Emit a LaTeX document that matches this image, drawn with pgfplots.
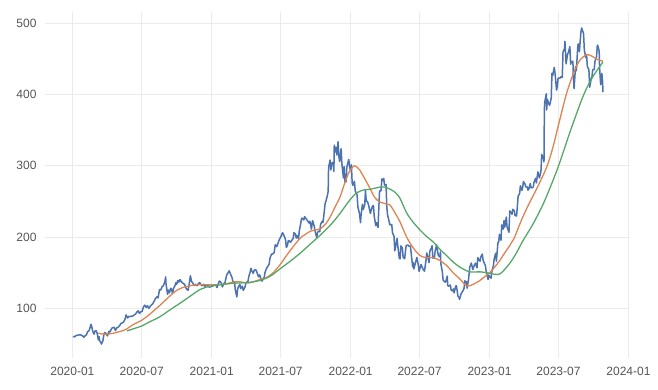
\documentclass[border=0pt]{standalone}
\usepackage{pgfplots}
\pgfplotsset{compat=1.18}
\usepackage{pgfplotstable}
\usepackage{fontspec}
\setmainfont{Liberation Sans}
\definecolor{cblue}{HTML}{4C72B0}
\definecolor{corange}{HTML}{DD8452}
\definecolor{cgreen}{HTML}{55A868}
\definecolor{cgrid}{HTML}{EBEBEB}
\definecolor{ctext}{HTML}{555555}

% day = days since 2020-01-01
\pgfplotstableread{
day price
1 60.0
6 59.8
9 61.5
14 61.8
17 62.5
22 62.4
27 61.0
30 59.1
34 61.5
37 62.6
40 67.1
43 68.0
45 70.2
49 77.4
51 73.5
54 66.5
57 63.5
59 67.5
62 68.5
65 65.0
68 55.5
70 60.1
72 53.5
75 52.1
76 49.5
78 51.5
80 54.0
83 63.6
85 65.7
89 64.2
92 61.0
96 67.5
99 66.7
103 71.5
106 72.7
110 73.0
113 68.6
117 72.5
120 73.1
124 75.4
127 78.2
131 79.4
134 80.1
138 84.1
141 90.5
145 86.2
148 88.4
152 88.0
155 88.9
159 89.0
162 90.3
166 91.8
169 94.2
173 96.3
176 92.5
180 95.0
183 95.3
187 102.0
190 104.2
194 101.0
197 103.5
201 99.7
204 102.4
208 104.8
211 106.1
215 110.0
218 113.3
222 115.9
225 114.5
229 126.3
232 125.5
236 130.5
239 131.5
243 137.2
245 143.9
246 134.0
250 119.5
252 125.4
255 121.4
258 127.8
260 127.5
263 120.6
266 128.0
269 131.1
272 135.8
274 133.5
277 139.0
280 136.7
283 140.2
286 137.0
289 135.7
292 134.5
295 133.0
298 128.8
301 126.0
304 125.3
307 134.5
310 145.5
313 137.5
316 135.5
320 132.0
324 133.5
327 131.5
331 134.4
334 136.0
338 133.0
341 131.5
345 133.6
348 130.5
352 132.5
356 131.7
360 129.5
365 130.5
369 131.1
373 133.0
377 132.0
380 129.0
385 137.0
387 138.0
391 135.5
394 129.9
398 134.5
401 136.0
405 146.0
408 149.0
412 152.5
415 148.3
419 143.5
422 137.2
426 136.0
428 125.6
432 115.8
434 126.5
436 129.8
440 133.5
442 127.4
446 130.8
449 125.0
454 130.5
456 136.0
461 137.3
464 145.5
467 150.6
469 156.0
471 152.8
475 149.0
478 153.5
482 154.0
485 150.1
489 144.0
492 146.6
496 140.0
498 138.0
502 141.5
504 143.5
506 150.0
510 155.8
512 157.5
517 162.0
519 169.9
523 176.0
526 176.0
530 178.0
533 189.0
537 186.5
540 191.0
544 197.0
547 199.5
552 206.0
554 204.0
558 199.5
560 196.0
562 185.5
565 187.8
567 194.5
569 195.0
573 192.5
576 195.0
580 198.0
582 206.0
586 204.0
588 198.5
590 202.0
594 197.5
596 208.0
600 219.5
602 226.0
604 226.4
608 223.9
610 228.5
615 225.0
618 222.5
622 219.5
624 222.0
628 211.0
631 223.0
635 216.0
638 207.2
642 199.0
644 206.0
646 208.0
650 207.5
652 217.5
656 222.0
658 220.0
660 227.3
664 247.2
666 250.0
670 258.5
672 264.0
673 297.5
677 308.0
679 294.0
681 303.0
685 305.0
687 292.0
688 329.0
691 319.5
693 326.0
695 315.0
698 333.8
700 314.0
702 306.0
706 324.0
708 303.0
712 283.0
714 299.0
716 277.0
719 277.5
721 298.0
726 309.0
728 300.0
730 294.1
733 301.2
735 276.0
737 272.5
741 278.0
743 265.0
748 259.0
750 242.0
754 233.7
757 220.0
758 228.4
762 246.0
764 238.5
768 245.0
770 265.0
772 250.0
775 250.0
778 245.0
783 233.0
785 237.5
789 243.9
791 244.0
793 229.0
797 216.0
799 220.0
803 213.3
805 240.0
807 264.5
811 265.0
813 281.5
817 279.0
818 282.2
820 272.9
824 273.6
826 242.0
828 231.2
832 222.0
834 217.0
839 217.5
841 206.0
845 201.0
847 180.6
849 185.5
853 198.0
855 187.1
859 169.5
861 169.4
863 187.5
867 184.5
869 171.2
873 169.5
875 179.8
877 188.1
882 188.6
884 187.2
888 187.3
890 178.0
894 158.0
896 163.7
897 155.0
902 165.0
905 171.3
909 160.0
911 151.6
916 161.4
918 158.7
922 154.0
925 152.0
929 167.0
931 177.5
933 173.2
937 164.0
939 180.0
943 184.4
945 187.6
947 170.3
951 170.3
953 180.0
957 188.9
958 186.0
961 174.6
965 172.0
967 179.0
968 162.6
972 150.8
974 139.4
979 136.5
981 137.3
985 145.0
986 131.5
989 131.0
993 132.6
995 125.6
999 124.1
1001 127.1
1003 121.4
1007 131.0
1009 131.5
1013 116.7
1016 115.0
1017 112.3
1021 119.7
1023 121.9
1027 125.2
1029 128.0
1031 138.3
1035 137.0
1037 128.1
1041 141.6
1044 157.6
1048 163.3
1050 159.1
1052 154.1
1056 160.4
1059 163.2
1063 156.8
1065 171.0
1069 167.0
1071 166.0
1073 172.0
1077 176.0
1079 167.5
1083 162.0
1085 160.0
1087 152.1
1092 140.4
1094 146.1
1098 143.2
1100 142.1
1101 148.6
1104 156.3
1106 159.1
1108 168.9
1112 177.0
1114 166.0
1118 192.0
1120 193.2
1122 203.7
1126 195.4
1128 217.0
1132 211.0
1134 223.0
1136 213.9
1140 228.0
1142 213.9
1147 206.6
1149 236.6
1153 234.0
1155 231.9
1157 238.8
1161 237.0
1163 230.0
1167 229.6
1169 242.3
1171 257.2
1175 261.0
1177 271.9
1181 265.3
1183 269.8
1185 277.8
1189 274.5
1191 270.4
1195 270.2
1197 265.6
1199 267.3
1203 275.0
1205 269.0
1209 269.4
1211 270.5
1213 277.5
1217 282.5
1219 276.0
1223 291.5
1225 287.0
1227 283.0
1231 292.0
1233 316.0
1237 311.0
1239 305.4
1240 379.8
1241 389.5
1245 401.1
1246 378.3
1248 393.3
1252 386.5
1254 385.1
1258 394.8
1260 429.9
1262 426.9
1266 438.1
1268 430.3
1272 406.3
1274 411.2
1276 423.0
1281 423.0
1283 425.0
1287 424.0
1289 459.8
1293 464.6
1294 474.9
1296 455.2
1297 443.1
1301 456.8
1303 459.0
1307 467.3
1309 442.7
1311 446.8
1315 446.6
1316 425.5
1318 408.5
1322 439.4
1324 433.4
1328 469.7
1330 471.2
1332 460.2
1336 487.8
1338 493.6
1343 485.5
1345 462.4
1349 451.8
1351 454.9
1353 439.0
1357 435.2
1359 410.2
1363 422.2
1365 424.7
1367 435.0
1371 435.2
1373 446.9
1377 452.7
1379 468.1
1380 469.5
1384 460.9
1385 439.4
1387 421.0
1388 413.9
1391 429.8
1393 417.8
1394 403.3
}\pricetable

\pgfplotstableread{
day ma
68 65
80 63.5
100 64
120 66.5
140 70
160 77
182 83
200 90
213 96
230 104
244 111
260 119
274 125
290 129
305 131
320 132.5
335 133
350 133
366 133
380 133
397 133.5
410 135
425 137
440 137
456 135.5
470 136
486 139
497 141
510 143
516 145
530 151
547 162
560 172
578 185
598 198
610 203
625 208
640 210
650 211
665 218
677 228
690 242
703 256
715 275
725 289
733 296
740 300
748 298
755 294
770 280
782 268
795 255
808 249
820 247
834 245
843 238
860 222
878 200
895 185
913 174
930 171
948 171
965 167
983 160
1000 150
1018 141
1030 134
1040 131
1055 134
1071 139
1085 145
1097 150
1110 158
1123 167
1135 177
1149 188
1162 200
1180 224
1200 247
1220 268
1246 298
1262 325
1276 355
1298 401
1318 432
1333 448
1351 456
1365 454
1380 449
1394 447
}\maA

\pgfplotstableread{
day ma
143 68
160 71
182 75
200 80
230 88
260 99
283 107
310 117
335 126
362 131
390 133
423 135
460 136
493 139
520 145
545 155
570 165
598 177
625 190
650 202
680 218
703 233
729 252
747 262
765 266
782 267
808 270
821 270
835 267
847 263
860 255
878 234
895 221
913 210
930 201
948 193
965 183
983 174
1000 165
1020 157
1044 151
1071 151
1097 149
1110 147.5
1123 148
1135 154
1149 163
1165 176
1184 195
1210 218
1240 250
1276 298
1309 350
1342 398
1365 423
1394 446
}\maB

\begin{document}
\begin{tikzpicture}
\path[use as bounding box] (0,0) rectangle (658pt,390pt);
\begin{axis}[
  at={(45pt,32pt)}, anchor=south west,
  scale only axis, width=585pt, height=346pt,
  xmin=-72, xmax=1465, ymin=30, ymax=516,
  xtick={0,182,366,547,731,912,1096,1277,1461},
  xticklabels={2020-01,2020-07,2021-01,2021-07,2022-01,2022-07,2023-01,2023-07,2024-01},
  ytick={100,200,300,400,500},
  grid=major,
  major grid style={cgrid, line width=0.6pt},
  axis line style={draw=none},
  tick style={draw=none},
  /pgf/number format/assume math mode=true,
  tick label style={font=\fontsize{12}{14}\selectfont, text=ctext},
  yticklabel style={xshift=-5pt},
  xticklabel style={yshift=-6pt},
  clip=false,
]
\addplot[cblue, line width=1.5pt, line join=round] table[x=day, y=price] {\pricetable};
\addplot[corange, line width=1.3pt, line join=round, smooth] table[x=day, y=ma] {\maA};
\addplot[cgreen, line width=1.3pt, line join=round, smooth] table[x=day, y=ma] {\maB};
\end{axis}
\end{tikzpicture}
\end{document}
